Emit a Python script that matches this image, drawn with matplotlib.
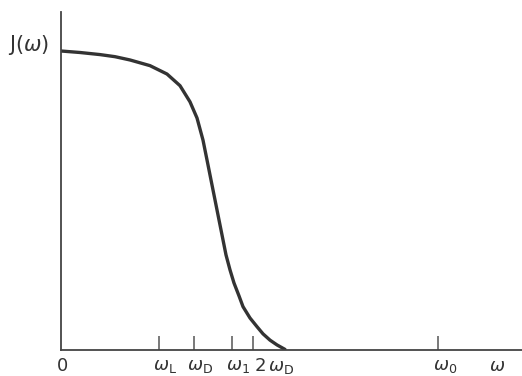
import matplotlib
matplotlib.use("Agg")
import matplotlib.pyplot as plt

# curve J(omega) (omega in arbitrary units, J normalised to J(0)=1)
omega = [0.00, 0.19, 0.39, 0.54, 0.69, 0.89, 1.06, 1.19, 1.29, 1.36, 1.42, 1.47,
         1.51, 1.54, 1.58, 1.61, 1.65, 1.69, 1.73, 1.78, 1.82, 1.89, 1.96, 2.02,
         2.09, 2.16, 2.24]
J = [1.000, 0.995, 0.988, 0.981, 0.970, 0.951, 0.923, 0.884, 0.830, 0.776, 0.702, 0.619,
     0.552, 0.502, 0.435, 0.385, 0.318, 0.268, 0.224, 0.181, 0.145, 0.107, 0.078, 0.054,
     0.033, 0.017, 0.002]

tick_pos = [0.98, 1.33, 1.71, 1.92, 3.77]
label_pos = [1.04, 1.39, 1.77, 2.13, 3.84, 4.36, 0.01]
label_txt = [r"$\omega_\mathrm{L}$", r"$\omega_\mathrm{D}$", r"$\omega_1$",
             r"$2\,\omega_\mathrm{D}$", r"$\omega_0$", r"$\omega$", "0"]

fig = plt.figure(figsize=(5.22, 3.76), dpi=100)
W, H = 522, 376
ax_h = 338
ax = fig.add_axes([61 / W, (H - 350) / H, (W - 61) / W, ax_h / H])
ax.set_xlim(0, 4.61)
ax.set_ylim(0, ax_h / 299)

ax.plot(omega, J, color="#333333", lw=2.4, solid_capstyle="round", solid_joinstyle="round")

for s in ["top", "right"]:
    ax.spines[s].set_visible(False)
for s in ["left", "bottom"]:
    ax.spines[s].set_color("#444444")
    ax.spines[s].set_linewidth(1.3)

ax.set_yticks([])
ax.set_xticks(tick_pos)
ax.set_xticklabels([])
ax.tick_params(axis="x", direction="in", length=10, width=1.1, color="#555555")

tr = ax.get_xaxis_transform()
for xp, t in zip(label_pos, label_txt):
    ax.text(xp, -16 / ax_h, t, transform=tr, ha="center", va="center",
            fontsize=13, color="#333333", clip_on=False)

fig.text(8 / W, 1 - 45 / H, r"J$(\omega)$", ha="left", va="center", fontsize=15, color="#333333")

fig.savefig("out.png", dpi=100, facecolor="white")
